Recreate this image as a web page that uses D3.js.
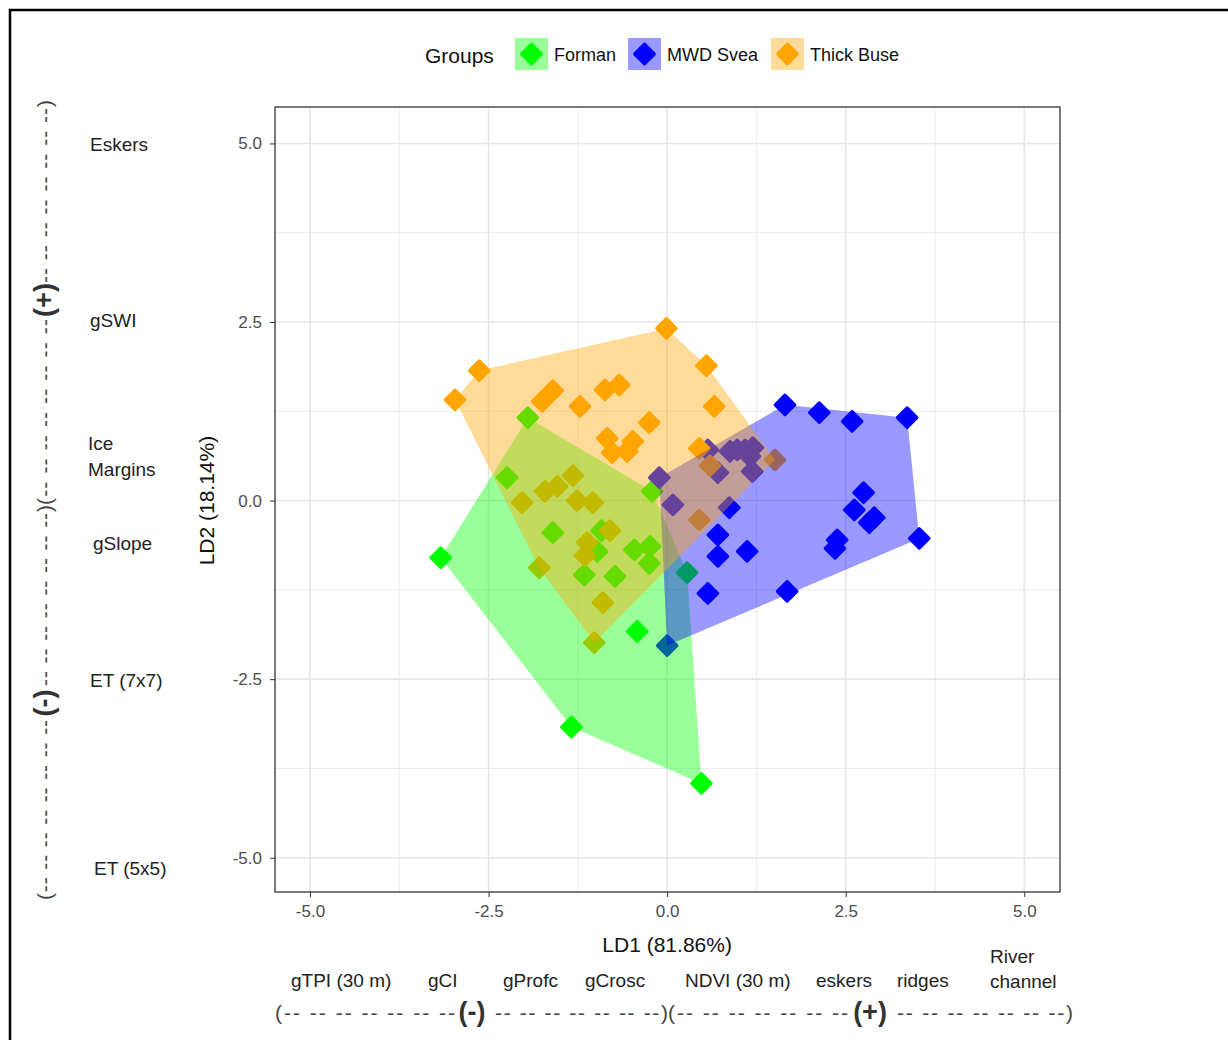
<!DOCTYPE html>
<html>
<head>
<meta charset="utf-8">
<script src="https://cdn.jsdelivr.net/npm/d3@7"></script>
<style>
  body { margin: 0; background: #fff; }
  text { font-family: "Liberation Sans", Arial, sans-serif; }
</style>
</head>
<body>
<script>
var width = 1228,
    height = 1040;

// groups and colours
var groups = ['Forman', 'MWD Svea', 'Thick Buse'];
var groupColors = ['#00ff00', '#0000ff', '#ffa500'];

// LD1 / LD2 scores
var formanLD1 = [-1.95, -2.24, -0.21, -3.17, -1.60, -0.92, -0.98, -0.46, -0.24, -0.25, -1.16, -0.73, -0.42, 0.28, -1.34, 0.48];
var formanLD2 = [1.16, 0.32, 0.13, -0.80, -0.45, -0.42, -0.71, -0.69, -0.64, -0.88, -1.04, -1.06, -1.83, -1.01, -3.17, -3.96];

var sveaLD1 = [1.65, 2.13, 2.59, 3.36, 2.75, 2.62, 2.83, 2.90, 3.53, 2.38, 2.35, 1.12, 0.71, 0.71, 0.87, 0.57, 1.68,
               0.57, 0.98, 1.09, 1.20, 1.16, 1.19, 0.71, -0.11, 0.08, 0.00, 0.88];
var sveaLD2 = [1.34, 1.23, 1.11, 1.16, 0.11, -0.13, -0.31, -0.24, -0.53, -0.55, -0.67, -0.71, -0.48, -0.78, -0.10, -1.30, -1.27,
               0.71, 0.71, 0.71, 0.74, 0.62, 0.41, 0.39, 0.32, -0.06, -2.03, 0.69];

var buseLD1 = [-0.01, 0.55, -2.63, -2.97, 0.66, -1.60, -1.75, -1.22, -0.87, -0.67, -0.25, -0.84, -0.77, -0.48, -0.56, 0.45,
               1.51, 0.60, 0.45, -1.32, -1.71, -1.54, -2.03, -1.26, -1.04, -0.80, -1.12, -1.15, -1.79, -0.90, -1.02];
var buseLD2 = [2.41, 1.89, 1.82, 1.41, 1.32, 1.54, 1.39, 1.32, 1.55, 1.62, 1.09, 0.87, 0.67, 0.83, 0.69, 0.73,
               0.57, 0.49, -0.27, 0.35, 0.13, 0.20, -0.03, 0.00, -0.03, -0.42, -0.59, -0.77, -0.94, -1.43, -1.99];

var ticks = [-5, -2.5, 0, 2.5, 5];
var minorTicks = [-3.75, -1.25, 1.25, 3.75];

// loadings written along the axes
var leftLabels = [['Eskers'], ['gSWI'], ['Ice', 'Margins'], ['gSlope'], ['ET (7x7)'], ['ET (5x5)']];
var bottomLabels = [['gTPI (30 m)'], ['gCI'], ['gProfc'], ['gCrosc'], ['NDVI (30 m)'], ['eskers'], ['ridges'], ['River', 'channel']];

var svg = d3.select("body").append("svg")
    .attr("width", width)
    .attr("height", height);

// outer frame
svg.append('rect')
  .attr('x', 10).attr('y', 10)
  .attr('width', width + 10).attr('height', height + 10)
  .attr('fill', 'none').attr('stroke', '#000').attr('stroke-width', 2.5);

var x = d3.scaleLinear().domain([-5.49, 5.5]).range([275, 1060]),
    y = d3.scaleLinear().domain([-5.48, 5.51]).range([892, 107]),
    color = d3.scaleOrdinal().domain(groups).range(groupColors);

var series = [
  { key: 'Forman', ld1: formanLD1, ld2: formanLD2 },
  { key: 'MWD Svea', ld1: sveaLD1, ld2: sveaLD2 },
  { key: 'Thick Buse', ld1: buseLD1, ld2: buseLD2 }
].map(function(s) {
  s.points = s.ld1.map(function(v, i) { return [v, s.ld2[i]]; });
  return s;
});

// grid
var grid = svg.append('g');
grid.selectAll('.minx').data(minorTicks).enter().append('line')
  .attr('x1', function(d) { return x(d); }).attr('x2', function(d) { return x(d); })
  .attr('y1', y.range()[0]).attr('y2', y.range()[1])
  .attr('stroke', '#ebebeb').attr('stroke-width', 1);
grid.selectAll('.miny').data(minorTicks).enter().append('line')
  .attr('y1', function(d) { return y(d); }).attr('y2', function(d) { return y(d); })
  .attr('x1', x.range()[0]).attr('x2', x.range()[1])
  .attr('stroke', '#ebebeb').attr('stroke-width', 1);
grid.selectAll('.majx').data(ticks).enter().append('line')
  .attr('x1', function(d) { return x(d); }).attr('x2', function(d) { return x(d); })
  .attr('y1', y.range()[0]).attr('y2', y.range()[1])
  .attr('stroke', '#e6e6e6').attr('stroke-width', 1.6);
grid.selectAll('.majy').data(ticks).enter().append('line')
  .attr('y1', function(d) { return y(d); }).attr('y2', function(d) { return y(d); })
  .attr('x1', x.range()[0]).attr('x2', x.range()[1])
  .attr('stroke', '#e6e6e6').attr('stroke-width', 1.6);

// points first, hulls on top (like the ggplot layers)
var diamond = d3.symbol().type(d3.symbolSquare).size(190);

series.forEach(function(s) {
  svg.append('g').selectAll('path')
    .data(s.points)
    .enter().append('path')
    .attr('d', diamond)
    .attr('transform', function(d) { return 'translate(' + x(d[0]) + ',' + y(d[1]) + ') rotate(45)'; })
    .attr('fill', color(s.key))
    .attr('stroke', color(s.key))
    .attr('stroke-width', 3.2)
    .attr('stroke-linejoin', 'round');
});

series.forEach(function(s) {
  var hull = d3.polygonHull(s.points.map(function(d) { return [x(d[0]), y(d[1])]; }));
  svg.append('path')
    .attr('d', 'M' + hull.join('L') + 'Z')
    .attr('fill', color(s.key))
    .attr('fill-opacity', 0.4);
});

// panel border
svg.append('rect')
  .attr('x', x.range()[0]).attr('y', y.range()[1])
  .attr('width', x.range()[1] - x.range()[0])
  .attr('height', y.range()[0] - y.range()[1])
  .attr('fill', 'none').attr('stroke', '#333').attr('stroke-width', 1.3);

// axes
var fmt = function(d) { return d.toFixed(1); };
var xAxis = svg.append('g')
  .attr('transform', 'translate(0,' + y.range()[0] + ')')
  .call(d3.axisBottom(x).tickValues(ticks).tickFormat(fmt).tickSize(5).tickPadding(8));
var yAxis = svg.append('g')
  .attr('transform', 'translate(' + x.range()[0] + ',0)')
  .call(d3.axisLeft(y).tickValues(ticks).tickFormat(fmt).tickSize(5).tickPadding(8));
[xAxis, yAxis].forEach(function(a) {
  a.select('.domain').remove();
  a.selectAll('line').attr('stroke', '#333');
  a.selectAll('text').attr('fill', '#4d4d4d').style('font-size', '17px')
    .style('font-family', '"Liberation Sans", Arial, sans-serif');
});

svg.append('text')
  .attr('x', x(0)).attr('y', 952)
  .attr('text-anchor', 'middle')
  .style('font-size', '21px').attr('fill', '#111')
  .text('LD1 (81.86%)');

svg.append('text')
  .attr('transform', 'translate(214,' + y(0) + ') rotate(-90)')
  .attr('text-anchor', 'middle')
  .style('font-size', '21px').attr('fill', '#111')
  .text('LD2 (18.14%)');

// legend
var legend = svg.append('g');
legend.append('text')
  .attr('x', 425).attr('y', 63)
  .style('font-size', '21px').attr('fill', '#111')
  .text('Groups');
var keyX = [515, 628, 771];
groups.forEach(function(g, i) {
  var k = legend.append('g').attr('transform', 'translate(' + keyX[i] + ',38)');
  k.append('rect').attr('width', 33).attr('height', 32)
    .attr('fill', color(g)).attr('fill-opacity', 0.4);
  k.append('path').attr('d', diamond)
    .attr('transform', 'translate(16.5,16) rotate(45)')
    .attr('fill', color(g)).attr('stroke', color(g))
    .attr('stroke-width', 3.2).attr('stroke-linejoin', 'round');
  k.append('text').attr('x', 39).attr('y', 23)
    .style('font-size', '18px').attr('fill', '#111')
    .text(g);
});

// variable names on the left
var leftY = [144, 320, 443, 543, 680, 868];
var leftX = [90, 90, 88, 93, 90, 94];
leftLabels.forEach(function(lines, i) {
  var t = svg.append('text')
    .attr('x', leftX[i]).attr('y', leftY[i] + 7)
    .style('font-size', '19px').attr('fill', '#222');
  lines.forEach(function(l, j) {
    t.append('tspan').attr('x', leftX[i]).attr('dy', j ? 26 : 0).text(l);
  });
});

// variable names below
var bottomX = [291, 428, 503, 585, 685, 816, 897, 990];
bottomLabels.forEach(function(lines, i) {
  var t = svg.append('text')
    .attr('x', bottomX[i]).attr('y', lines.length > 1 ? 963 : 987)
    .style('font-size', '19px').attr('fill', '#222');
  lines.forEach(function(l, j) {
    t.append('tspan').attr('x', bottomX[i]).attr('dy', j ? 25 : 0).text(l);
  });
});

// (-) / (+) brackets
var dashes = '-- -- -- -- -- -- --';
function bracket(g, pieces) {
  pieces.forEach(function(p) {
    g.append('text')
      .attr('x', p.x).attr('y', 0)
      .attr('dominant-baseline', 'central')
      .attr('text-anchor', p.anchor || 'start')
      .attr('textLength', p.len || null)
      .attr('lengthAdjust', 'spacing')
      .style('font-size', p.bold ? '27px' : '21px')
      .style('font-weight', p.bold ? 'bold' : 'normal')
      .attr('fill', p.bold ? '#333' : '#444')
      .text(p.t);
  });
}

var bottom = svg.append('g').attr('transform', 'translate(0,1012)');
bracket(bottom, [
  { x: 275, t: '(' + dashes, len: 180 },
  { x: 472, t: '(-)', bold: true, anchor: 'middle' },
  { x: 495, t: dashes + ')', len: 173 },
  { x: 668, t: '(' + dashes, len: 180 },
  { x: 870, t: '(+)', bold: true, anchor: 'middle' },
  { x: 897, t: dashes + ')', len: 176 }
]);

var leftDash = '-- -- -- -- -- -- -- --';
var left = svg.append('g').attr('transform', 'translate(44,0) rotate(-90)');
bracket(left, [
  { x: -900, t: '(' + leftDash, len: 180 },
  { x: -703, t: '(-)', bold: true, anchor: 'middle' },
  { x: -686, t: leftDash + ')', len: 181 },
  { x: -505, t: '(' + leftDash, len: 186 },
  { x: -300, t: '(+)', bold: true, anchor: 'middle' },
  { x: -283, t: leftDash + ')', len: 183 }
]);
</script>
</body>
</html>
